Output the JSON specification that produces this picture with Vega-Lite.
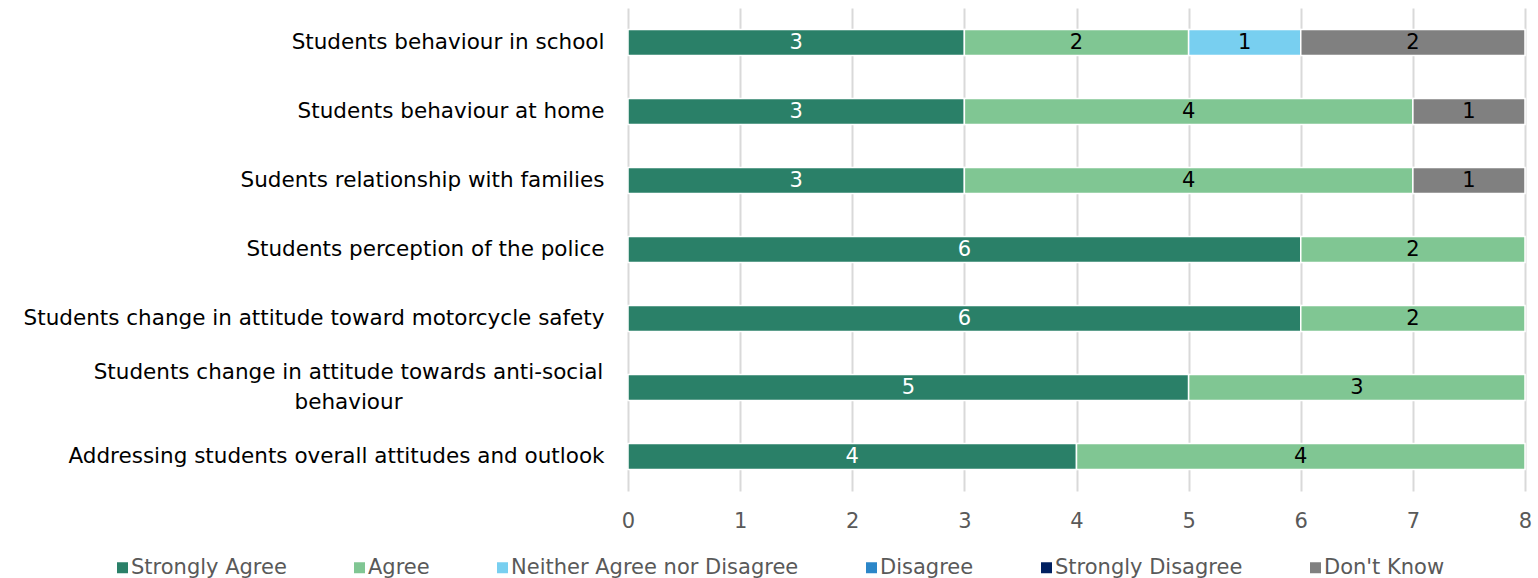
{
  "$schema": "https://vega.github.io/schema/vega-lite/v6.json",
  "width": 897,
  "height": 483,
  "autosize": {"type": "none"},
  "padding": {"left": 628, "top": 8, "right": 13, "bottom": 87},
  "background": "white",
  "config": {"view": {"stroke": null}, "font": "DejaVu Sans"},
  "data": {
    "values": [
      {"item": "Students behaviour in school", "response": "Strongly Agree", "k": 1, "count": 3},
      {"item": "Students behaviour in school", "response": "Agree", "k": 2, "count": 2},
      {"item": "Students behaviour in school", "response": "Neither Agree nor Disagree", "k": 3, "count": 1},
      {"item": "Students behaviour in school", "response": "Don't Know", "k": 6, "count": 2},
      {"item": "Students behaviour at home", "response": "Strongly Agree", "k": 1, "count": 3},
      {"item": "Students behaviour at home", "response": "Agree", "k": 2, "count": 4},
      {"item": "Students behaviour at home", "response": "Don't Know", "k": 6, "count": 1},
      {"item": "Sudents relationship with families", "response": "Strongly Agree", "k": 1, "count": 3},
      {"item": "Sudents relationship with families", "response": "Agree", "k": 2, "count": 4},
      {"item": "Sudents relationship with families", "response": "Don't Know", "k": 6, "count": 1},
      {"item": "Students perception of the police", "response": "Strongly Agree", "k": 1, "count": 6},
      {"item": "Students perception of the police", "response": "Agree", "k": 2, "count": 2},
      {"item": "Students change in attitude toward motorcycle safety", "response": "Strongly Agree", "k": 1, "count": 6},
      {"item": "Students change in attitude toward motorcycle safety", "response": "Agree", "k": 2, "count": 2},
      {"item": "Students change in attitude towards anti-social behaviour", "response": "Strongly Agree", "k": 1, "count": 5},
      {"item": "Students change in attitude towards anti-social behaviour", "response": "Agree", "k": 2, "count": 3},
      {"item": "Addressing students overall attitudes and outlook", "response": "Strongly Agree", "k": 1, "count": 4},
      {"item": "Addressing students overall attitudes and outlook", "response": "Agree", "k": 2, "count": 4}
    ]
  },
  "encoding": {
    "y": {
      "field": "item",
      "type": "nominal",
      "sort": [
        "Students behaviour in school",
        "Students behaviour at home",
        "Sudents relationship with families",
        "Students perception of the police",
        "Students change in attitude toward motorcycle safety",
        "Students change in attitude towards anti-social behaviour",
        "Addressing students overall attitudes and outlook"
      ],
      "scale": {"paddingInner": 0.62, "paddingOuter": 0.31},
      "axis": {
        "title": null,
        "ticks": false,
        "domain": false,
        "labelFontSize": 21.5,
        "labelColor": "#000000",
        "labelLimit": 0,
        "labelLineHeight": 30,
        "labelExpr": "datum.value == 'Students change in attitude towards anti-social behaviour' ? ['Students change in attitude towards anti-social', 'behaviour'] : datum.label",
        "labelAlign": {"condition": {"test": "datum.value == 'Students change in attitude towards anti-social behaviour'", "value": "center"}, "value": "right"},
        "labelPadding": {"condition": {"test": "datum.value == 'Students change in attitude towards anti-social behaviour'", "value": 280}, "value": 24},
        "labelOffset": {"condition": {"test": "datum.value == 'Students change in attitude towards anti-social behaviour'", "value": -15}, "value": 0}
      }
    }
  },
  "layer": [
    {
      "mark": {"type": "bar", "stroke": "white", "strokeWidth": 1.5},
      "encoding": {
        "x": {
          "field": "count",
          "type": "quantitative",
          "stack": "zero",
          "scale": {"domain": [0, 8]},
          "axis": {
            "title": null,
            "ticks": false,
            "domain": false,
            "grid": true,
            "gridColor": "#d9d9d9",
            "gridWidth": 2,
            "values": [0, 1, 2, 3, 4, 5, 6, 7, 8],
            "format": "d",
            "labelFlush": false,
            "labelFontSize": 21,
            "labelColor": "#595959",
            "labelPadding": 19
          }
        },
        "color": {
          "field": "response",
          "type": "nominal",
          "scale": {
            "domain": ["Strongly Agree", "Agree", "Neither Agree nor Disagree", "Disagree", "Strongly Disagree", "Don't Know"],
            "range": ["#2a8068", "#80c693", "#78cff0", "#2b86c8", "#002060", "#808080"]
          },
          "legend": {
            "orient": "none",
            "legendX": -516,
            "legendY": 549,
            "direction": "horizontal",
            "columns": 6,
            "title": null,
            "symbolType": "square",
            "symbolSize": 121,
            "symbolStrokeWidth": 0,
            "labelFontSize": 21,
            "labelColor": "#595959",
            "labelOffset": -2,
            "columnPadding": 62,
            "padding": 0,
            "labelLimit": 0
          }
        },
        "order": {"field": "k", "type": "quantitative"}
      }
    },
    {
      "mark": {"type": "text", "fontSize": 21, "baseline": "middle", "align": "center"},
      "encoding": {
        "x": {"field": "count", "type": "quantitative", "stack": "zero", "bandPosition": 0.5},
        "text": {"field": "count", "type": "quantitative"},
        "detail": {"field": "response", "type": "nominal"},
        "order": {"field": "k", "type": "quantitative"},
        "color": {"condition": {"test": "datum.response == 'Strongly Agree'", "value": "white"}, "value": "black"}
      }
    }
  ]
}
